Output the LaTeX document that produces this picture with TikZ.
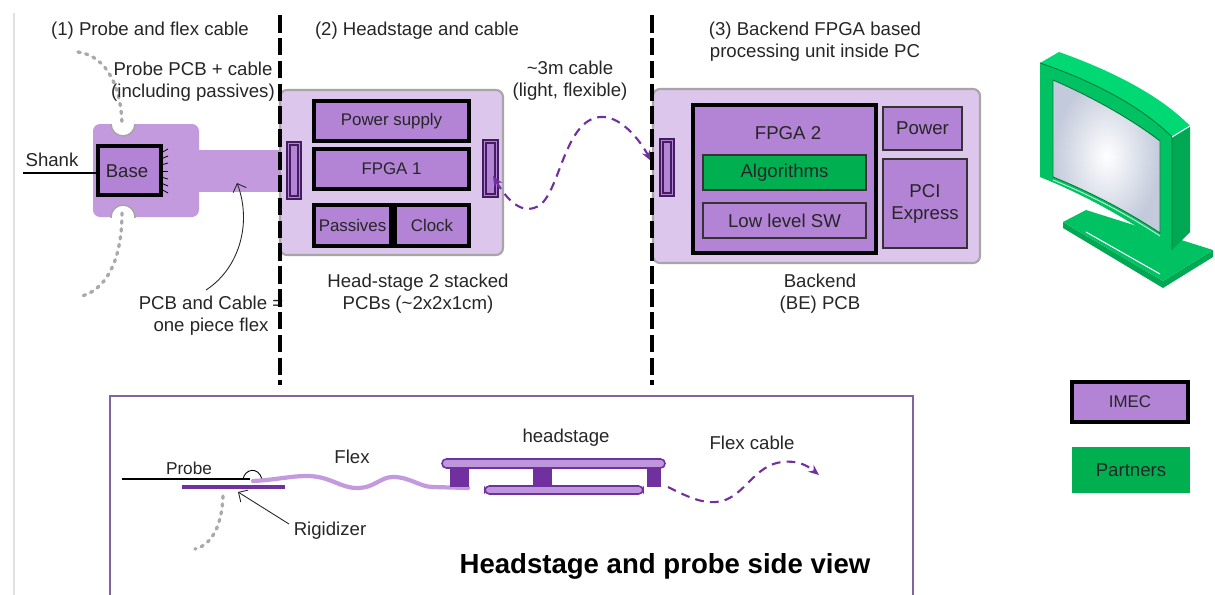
\documentclass[tikz,border=0pt]{standalone}
\usepackage{fontspec}
\setmainfont{Liberation Sans}
\usetikzlibrary{arrows.meta,calc}
\definecolor{pcbbg}{HTML}{DCC6EB}
\definecolor{flexpcb}{HTML}{C49ADE}
\definecolor{imec}{HTML}{B383D6}
\definecolor{partner}{HTML}{00B050}
\definecolor{darkpurple}{HTML}{7030A0}
\definecolor{framepurple}{HTML}{8064A2}
\definecolor{boardgray}{HTML}{A6A6A6}
\definecolor{dotgray}{HTML}{A9A9A9}
\definecolor{textdark}{HTML}{262626}
\definecolor{monfront}{HTML}{00C262}
\definecolor{montop}{HTML}{00D874}
\definecolor{monside}{HTML}{00A853}
\definecolor{monedge}{HTML}{007A3D}
\definecolor{screenout}{HTML}{C3CADB}
\tikzset{
  lbl/.style={font=\fontsize{10.6}{12.5}\selectfont, text=textdark, align=center, inner sep=0pt},
  small/.style={font=\fontsize{9.6}{11}\selectfont},
  imecbox/.style={draw=black, line width=2pt, fill=imec},
  thinbox/.style={draw=black!80, line width=0.7pt},
  board/.style={draw=boardgray, line width=1.2pt, fill=pcbbg, rounded corners=4pt},
  connout/.style={draw=darkpurple!60!black, line width=0.7pt, fill=imec},
  connin/.style={draw=darkpurple!60!black, line width=0.6pt},
  sep/.style={line width=1.8pt, dash pattern=on 10pt off 3pt},
  dots/.style={dotgray, line width=1.9pt, line cap=round, dash pattern=on 1.3pt off 3.2pt},
  cable/.style={darkpurple, line width=1.2pt, dash pattern=on 5pt off 3.5pt},
  sideboard/.style={draw=darkpurple, line width=0.9pt, fill=imec!85!white, rounded corners=2.5pt},
}
\begin{document}
\begin{tikzpicture}[x=0.02cm,y=-0.02cm]
\useasboundingbox (0,0) rectangle (1215,595);
\fill[white] (0,0) rectangle (1215,595);
% faint page edge
\draw[black!12, line width=0.8pt] (14,13) -- (14,595);

% ---------- (1) probe and flex cable ----------
\fill[flexpcb, rounded corners=4pt] (93,124) rectangle (199,217);
\fill[flexpcb] (195,150) rectangle (285,192);
\begin{scope}
  \clip (93,124) rectangle (199,217);
  \filldraw[fill=white, draw=boardgray, line width=0.9pt] (123,124) circle (12);
  \filldraw[fill=white, draw=boardgray, line width=0.9pt] (123,217) circle (12);
\end{scope}
\draw[dots] (78,52) .. controls (108,56) and (122,90) .. (122,127);
\draw[dots] (122,213) .. controls (122,262) and (105,292) .. (78,297);
\draw[imecbox] (98,146) rectangle (161,195);
\node[lbl] (base) at (127,171) {Base};
\coordinate (shankend) at (23,173);
\draw[black, line width=1.4pt] (shankend) -- (98,173);
\node[lbl] (shank) at (52,160) {Shank};
\foreach \ya/\yb in {153/149,159/156,165/163,171/171,177/179,183/186,189/193}
  \draw[black, line width=0.45pt] (161,\ya) -- (168,\yb);
\node[lbl] (probepcb) at (193,82) {Probe PCB + cable\\(including passives)};
\node[lbl] (onepiece) at (211,316) {PCB and Cable =\\one piece flex};
\coordinate (flexpt) at (237,183);
\draw[black!85, line width=0.5pt, -{Straight Barb[length=4pt]}] (206,290) .. controls (240,268) and (252,222) .. (flexpt);
\node[lbl] (t1) at (150,31) {(1) Probe and flex cable};

% ---------- (2) headstage ----------
\draw[board] (280,90) rectangle (503,255);
\draw[imecbox] (314,101) rectangle (469,141);
\node[lbl, small] (ps) at (391.5,121) {Power supply};
\draw[imecbox] (314,149) rectangle (469,189);
\node[lbl, small] (fpga1) at (391.5,169) {FPGA 1};
\draw[imecbox] (314,205) rectangle (391,246);
\node[lbl, small] (pass) at (352.5,225.5) {Passives};
\draw[imecbox] (395,205) rectangle (469,246);
\node[lbl, small] (clk) at (432,225.5) {Clock};
\draw[connout] (287,142) rectangle (301,199);
\draw[connin] (290,145) rectangle (298,196);
\draw[connout] (483,140) rectangle (498,197);
\draw[connin] (486,143) rectangle (495,194);
\coordinate (hsport) at (493,176);
\node[lbl] (hslbl) at (418,294) {Head-stage 2 stacked\\PCBs (\textasciitilde 2x2x1cm)};
\node[lbl] (t2) at (417,31) {(2) Headstage and cable};

% ---------- cable ----------
\node[lbl] (cablelbl) at (570,81) {\textasciitilde 3m cable\\(light, flexible)};
\coordinate (beport) at (651,161);

% ---------- (3) backend ----------
\draw[board] (653,89) rectangle (980,263);
\draw[connout] (660,139) rectangle (674,196);
\draw[connin] (663,142) rectangle (671,193);
\draw[imecbox] (693,105) rectangle (876,253);
\node[lbl] (fpga2) at (788,133) {FPGA 2};
\draw[thinbox, fill=partner] (703,155) rectangle (866,190);
\node[lbl] (algo) at (784.5,172.5) {Algorithms};
\draw[thinbox, fill=imec] (703,203) rectangle (866,238);
\node[lbl] (llsw) at (784.5,220.5) {Low level SW};
\draw[draw=black!80, line width=1pt, fill=imec] (883,107) rectangle (962,150);
\node[lbl] (pwr) at (922.5,128.5) {Power};
\draw[draw=black!80, line width=1pt, fill=imec] (883,159) rectangle (967,248);
\node[lbl] (pci) at (925,203.5) {PCI\\Express};
\node[lbl] (belbl) at (820,294) {Backend\\(BE) PCB};
\node[lbl] (t3) at (815,42) {(3) Backend FPGA based\\processing unit inside PC};

\draw[cable, {Stealth[length=6pt,width=5pt]}-{Stealth[length=6pt,width=5pt]}]
  (hsport) .. controls (510,205) and (525,215) .. (540,205)
  .. controls (560,190) and (565,120) .. (600,117)
  .. controls (620,115) and (640,140) .. (beport);

% ---------- separators ----------
\draw[sep] (280,15) -- (280,385);
\draw[sep] (652,15) -- (652,385);

% ---------- monitor ----------
% base
\fill[monside] (1063,222) -- (1063,228) -- (1163,288) -- (1213,257) -- (1213,250) -- (1163,281) -- cycle;
\fill[monfront] (1063,222) -- (1086,210) -- (1213,250) -- (1163,281) -- cycle;
\draw[white, line width=0.6pt] (1086,232) -- (1160,274);
% top face
\fill[montop] (1040,63) -- (1059,52) .. controls (1110,70) and (1160,95) .. (1190,126) -- (1172,137) .. controls (1140,105) and (1090,80) .. cycle;
% side face
\fill[monside] (1172,137) -- (1190,126) -- (1190,232) -- (1172,250) -- cycle;
% front bezel
\fill[monfront] (1040,63) .. controls (1090,80) and (1140,105) .. (1172,137) -- (1172,250)
  .. controls (1130,220) and (1085,195) .. (1040,177) -- cycle;
\draw[monedge, line width=0.5pt] (1040,63) .. controls (1090,80) and (1140,105) .. (1172,137) -- (1172,250);
\draw[white, line width=0.6pt] (1172,137) -- (1190,126);
% screen
\shade[inner color=white, outer color=screenout, draw=monedge, line width=0.5pt]
  (1053,80) .. controls (1090,96) and (1130,118) .. (1160,141) -- (1160,233)
  .. controls (1125,210) and (1090,192) .. (1053,177) -- cycle;
\draw[white!70!monfront, line width=0.6pt] (1053,180) .. controls (1090,195) and (1125,213) .. (1160,236);

% ---------- legend ----------
\node[imecbox, minimum width=116*0.02cm, minimum height=40*0.02cm, lbl, font=\fontsize{9.6}{11}\selectfont, inner sep=0pt] (leg1) at (1130,402) {IMEC};
\node[fill=partner, minimum width=118*0.02cm, minimum height=46*0.02cm, lbl] (leg2) at (1131,470) {Partners};

% ---------- side view ----------
\draw[framepurple, line width=1.7pt] (110,595) -- (110,396) -- (913,396) -- (913,595);
\node[lbl, font=\fontsize{9.8}{11}\selectfont] (probelbl) at (189,468) {Probe};
\coordinate (probetip) at (122,479);
\coordinate (probeend) at (250,479);
\draw[black, line width=1.3pt] (probetip) -- (probeend);
\draw[darkpurple, line width=2.4pt] (182,487) -- (285,487);
\draw[black, line width=0.5pt] (243,479) .. controls (245,469) and (258,466) .. (262,479);
\draw[flexpcb, line width=2.4pt, line cap=round] (253,481) .. controls (275,480) and (290,476) .. (307,476)
  .. controls (330,476) and (340,488) .. (357,488)
  .. controls (375,488) and (380,477) .. (393,477)
  .. controls (410,477) and (420,487) .. (433,487) -- (468,488);
\node[lbl] (flexlbl) at (352,457) {Flex};
\coordinate (rigpt) at (238,492);
\node[lbl] (riglbl) at (330,531) {Rigidizer};
\draw[black!85, line width=0.5pt, -{Straight Barb[length=4pt]}] (289,524) -- (rigpt);
\draw[dots] (223,496) .. controls (222,525) and (212,545) .. (195,549);
% stacked boards
\fill[darkpurple] (450,467) rectangle (469,487);
\fill[darkpurple] (533,467) rectangle (552,487);
\fill[darkpurple] (647,467) rectangle (661,487);
\draw[sideboard] (442,459) rectangle (665,468);
\draw[sideboard] (485,486) rectangle (643,494);
\node[lbl] (hslbl2) at (566,438) {headstage};
\coordinate (hsout) at (668,487);
\coordinate (cabend) at (819,475);
\draw[cable, -{Stealth[length=6pt,width=5pt]}] (hsout) .. controls (690,498) and (705,505) .. (722,501)
  .. controls (745,495) and (755,465) .. (782,462) .. controls (798,460) and (808,466) .. (cabend);
\node[lbl] (flexcab) at (752,443) {Flex cable};
\node[lbl, font=\bfseries\fontsize{15.7}{18}\selectfont, text=black] (title) at (665,566) {Headstage and probe side view};
\end{tikzpicture}
\end{document}
